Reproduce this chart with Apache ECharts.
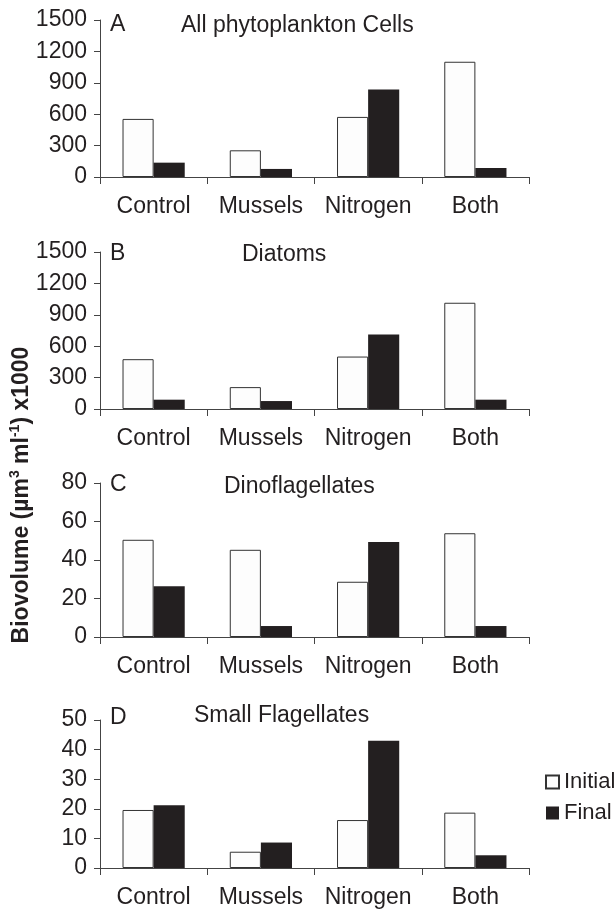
<!DOCTYPE html>
<html>
<head>
<meta charset="utf-8">
<script src="https://cdn.jsdelivr.net/npm/echarts@6/dist/echarts.min.js"></script>
<style>
html, body { margin: 0; padding: 0; background: #fff; }
#chart { width: 615px; height: 909px; }
</style>
</head>
<body>
<div id="chart"></div>
<script>
// treatments on the x axis
var treatments = ['Control', 'Mussels', 'Nitrogen', 'Both'];

// biovolume, um3 ml-1 x1000
var allInitial = [555, 255, 574, 1101];   // A all phytoplankton cells
var allFinal = [137, 77, 836, 86];
var diaInitial = [476, 209, 501, 1015];   // B diatoms
var diaFinal = [89, 76, 711, 89];
var dinoInitial = [50.5, 45.3, 28.7, 53.9]; // C dinoflagellates
var dinoFinal = [26.3, 5.7, 49.4, 5.7];
var flagInitial = [19.6, 5.5, 16.2, 18.7];  // D small flagellates
var flagFinal = [21.2, 8.6, 43.0, 4.3];

// y axis ranges per panel
var axisMax = [1500, 1500, 80, 50];
var axisStep = [300, 300, 20, 10];

var panelLetters = ['A', 'B', 'C', 'D'];
var panelTitles = ['All phytoplankton Cells', 'Diatoms', 'Dinoflagellates', 'Small Flagellates'];

var ink = '#231f20';
var font = 'Liberation Sans, Arial, Helvetica, sans-serif';

var grids = [
  { left: 100, width: 429, top: 20, height: 157 },
  { left: 100, width: 429, top: 252, height: 157 },
  { left: 100, width: 429, top: 483, height: 154 },
  { left: 100, width: 429, top: 720, height: 151 }
];

var xAxes = [], yAxes = [];
for (var i = 0; i < 4; i++) {
  xAxes.push({
    type: 'category',
    gridIndex: i,
    data: treatments,
    axisLine: { lineStyle: { color: '#444', width: 1 } },
    axisTick: { show: true, length: 7, lineStyle: { color: '#444' } },
    axisLabel: { color: ink, fontSize: 23, fontFamily: font, margin: 18, interval: 0 }
  });
  yAxes.push({
    type: 'value',
    gridIndex: i,
    min: 0,
    max: axisMax[i],
    interval: axisStep[i],
    splitLine: { show: false },
    axisLine: { show: true, lineStyle: { color: '#444', width: 1 } },
    axisTick: { show: true, length: 6, lineStyle: { color: '#444' } },
    axisLabel: {
      color: ink, fontSize: 23, fontFamily: font, margin: 13,
      formatter: function (v) { return String(v); }
    }
  });
}

var initialStyle = { color: '#fdfdfd', borderColor: '#333', borderWidth: 1 };
var finalStyle = { color: ink };

function pair(idx, initial, final) {
  return [
    { name: 'Initial', type: 'bar', xAxisIndex: idx, yAxisIndex: idx, data: initial,
      barGap: '0%', barCategoryGap: '42%', itemStyle: initialStyle, silent: true },
    { name: 'Final', type: 'bar', xAxisIndex: idx, yAxisIndex: idx, data: final,
      barGap: '0%', barCategoryGap: '42%', itemStyle: finalStyle, silent: true }
  ];
}

var series = [].concat(
  pair(0, allInitial, allFinal),
  pair(1, diaInitial, diaFinal),
  pair(2, dinoInitial, dinoFinal),
  pair(3, flagInitial, flagFinal)
);

// panel letters and titles
var letterY = [25, 254, 485, 718];
var titleX = [181, 242, 224, 194];
var titleY = [26, 255, 487, 716];
var graphics = [];
for (var k = 0; k < 4; k++) {
  graphics.push({
    type: 'text', left: 110, top: letterY[k] - 12,
    style: { text: panelLetters[k], fill: ink, font: '23px ' + font }
  });
  graphics.push({
    type: 'text', left: titleX[k], top: titleY[k] - 12,
    style: { text: panelTitles[k], fill: ink, font: '23px ' + font }
  });
}
// rotated y axis name with superscripts
graphics.push({
  type: 'text',
  x: 22, y: 495,
  rotation: Math.PI / 2,
  style: {
    text: '{m|Biovolume (µm}{s|3}{m| ml}{s|-1}{m|) x1000}',
    fill: ink,
    align: 'center',
    verticalAlign: 'middle',
    rich: {
      m: { fontSize: 23, fontWeight: 'bold', fontFamily: font, fill: ink },
      s: { fontSize: 14, fontWeight: 'bold', fontFamily: font, fill: ink, padding: [0, 0, 14, 0] }
    }
  }
});

var chart = echarts.init(document.getElementById('chart'));
chart.setOption({
  backgroundColor: '#ffffff',
  animation: false,
  grid: grids,
  xAxis: xAxes,
  yAxis: yAxes,
  legend: {
    data: ['Initial', 'Final'],
    orient: 'vertical',
    left: 540,
    top: 766,
    icon: 'rect',
    itemWidth: 13,
    itemHeight: 13,
    itemGap: 9,
    textStyle: { color: ink, fontSize: 22, fontFamily: font }
  },
  graphic: graphics,
  series: series
});
</script>
</body>
</html>
